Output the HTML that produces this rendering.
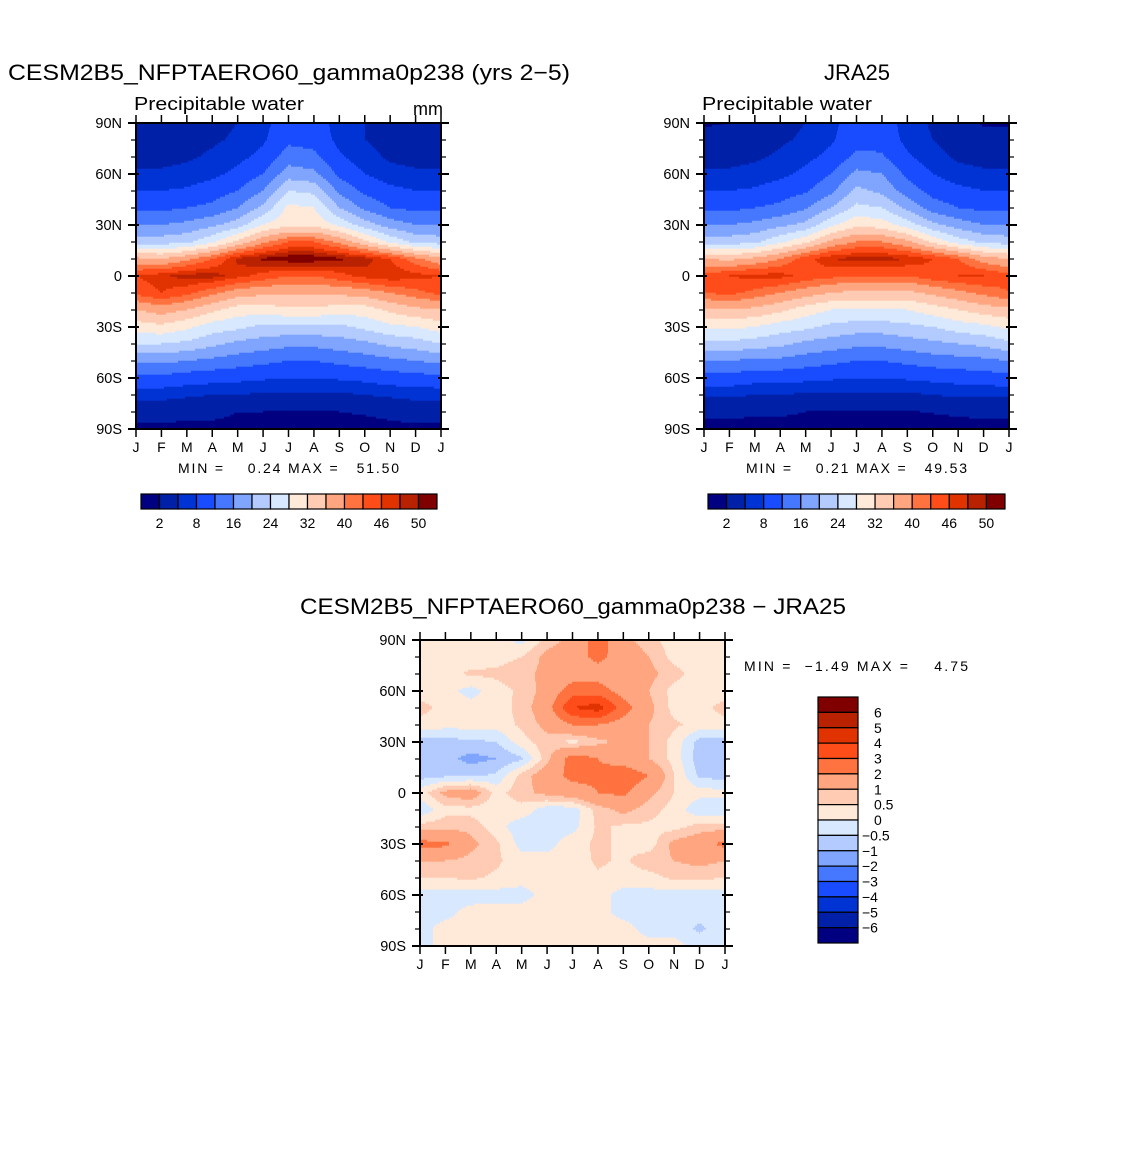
<!DOCTYPE html>
<html><head><meta charset="utf-8">
<style>
html,body{margin:0;padding:0;background:#fff;}
body{width:1146px;height:1146px;position:relative;overflow:hidden;font-family:"Liberation Sans","DejaVu Sans",sans-serif;}
svg text{font-family:"Liberation Sans","DejaVu Sans",sans-serif;fill:#000;}
</style></head>
<body>
<svg id="chart" width="1146" height="1146" viewBox="0 0 1146 1146" xmlns="http://www.w3.org/2000/svg">
<text x="8" y="80" font-size="22" textLength="562" lengthAdjust="spacingAndGlyphs">CESM2B5_NFPTAERO60_gamma0p238 (yrs 2−5)</text>
<text x="134" y="110" font-size="18" textLength="170" lengthAdjust="spacingAndGlyphs">Precipitable water</text>
<text x="443" y="115" font-size="18" text-anchor="end">mm</text>
<text x="857" y="80" font-size="22" text-anchor="middle">JRA25</text>
<text x="702" y="110" font-size="18" textLength="170" lengthAdjust="spacingAndGlyphs">Precipitable water</text>
<text x="178" y="473" font-size="14" textLength="221" lengthAdjust="spacing" xml:space="preserve">MIN =    0.24 MAX =   51.50</text>
<text x="746" y="473" font-size="14" textLength="221" lengthAdjust="spacing" xml:space="preserve">MIN =    0.21 MAX =   49.53</text>
<text x="300" y="614" font-size="22" textLength="546" lengthAdjust="spacingAndGlyphs">CESM2B5_NFPTAERO60_gamma0p238 − JRA25</text>
<text x="744" y="671" font-size="14" textLength="224" lengthAdjust="spacing" xml:space="preserve">MIN =  −1.49 MAX =    4.75</text>
<g id="layer"></g>
</svg>
<script>
// ---- data ----
const months = ["J","F","M","A","M","J","J","A","S","O","N","D","J"];
const lats = [90,80,70,60,50,40,30,20,10,0,-10,-20,-30,-40,-50,-60,-70,-80,-90];
const latTickLabels = ["90N","60N","30N","0","30S","60S","90S"];
const latTickValues = [90,60,30,0,-30,-60,-90];
const absLevels = [2,5,8,12,16,20,24,28,32,36,40,43,46,48,50];
const absLevelLabels = ["2","8","16","24","32","40","46","50"];
const diffLevels = [-6,-5,-4,-3,-2,-1,-0.5,0,0.5,1,2,3,4,5,6];
const diffLevelLabels = ["6","5","4","3","2","1","0.5","0","−0.5","−1","−2","−3","−4","−5","−6"];
const palette = ["#000080","#0020a8","#0033d4","#1a4cff","#4677ff","#7fa5ff","#b3cbff","#d8e9ff","#ffe9d8","#ffcbb3","#ffa680","#ff7340","#ff4d1a","#e03300","#b82200","#800000"];
const cesmJan=[3,3.5,4,5.5,8,11,16,22,37,46,44,36,30,24,17,11,6,3,1.5];
const cesmFeb=[3,3.5,4,5.5,8,11,16,22,36,47.5,46,38,31,24,17,11,6,3,1.5];
const cesmMar=[3.5,4,4.5,6,8.5,12,17,23,39,49,44,36,29,23,16,10,5.5,2.5,1.5];
const cesmApr=[4,4.5,5.5,7,10,13,19,27,43,49,41,33,26,21,15,9.5,5,2.5,1.5];
const cesmMay=[5,5.5,7,9,12,16,22,33,48.5,47,38,30,25,19,14,9,5,2,1.5];
const cesmJun=[7,7.5,9,12,16,21,28,39,50.5,45,37,30,23,18,13,8.5,4.5,2,1.2];
const cesmJul=[10,11,14,18,24,29,31,43,51.5,43,37,31,23,17,12,8,4.5,1.8,1];
const cesmAug=[10,10.5,13,17,23,28,31,43,51.5,43,37,31,23,17,12,8,4.5,1.8,1];
const cesmSep=[6.5,7,8.5,11,15,20,27,39,50.5,45,37,30,23,18,13,8.5,4.5,2,1.2];
const cesmOct=[5,5,6,8,11,15,22,33,49,47,38,30,25,19,14,9,5,2.2,1.3];
const cesmNov=[3.5,4,4.5,6,9,12,18,27,46,48,40,33,27,21,15,10,5.5,2.5,1.5];
const cesmDec=[3,3.5,4,5.5,8,11,16,23,41,47,42,35,28,22,16,10.5,6,3,1.5];
const jraJan=[1.8,2.5,4,5.5,8,11,16,22,36,44,43,35,29,23,16,10.5,5.5,2.5,1.3];
const jraFeb=[2,3,4,5.5,8,11,16,22,35,46,44,36,29,23,16,10.5,5.5,2.5,1.3];
const jraMar=[3,3.5,4.5,6,8.5,12,17,23,37,47,42,35,28,22,15,9.5,5,2.3,1.3];
const jraApr=[4,4.5,5.5,7,10,13,19,27,40,47,40,33,26,21,15,9.5,5,2.3,1.3];
const jraMay=[5,5.5,7,9,11.5,15.5,21,31,45,45,38,30,25,19,14,9,4.5,2,1.3];
const jraJun=[7,7.5,9,12,15,20,27,37,48,44,36,28,23,18,13,8.5,4.5,1.8,1.1];
const jraJul=[10,10.5,13,17,21,25,31,40,49,43,35,28,22,17,12,8,4.5,1.7,1];
const jraAug=[10,10.5,12.5,16,19,24,30,40,49,43,35,28,22,17,12,8,4.5,1.7,1];
const jraSep=[6.5,7,8.5,11,14,19,26,37,48,43,35,28,23,18,13,8.5,4.5,1.9,1.1];
const jraOct=[4.5,5,6,8,10.5,14,21,31,46,45,37,30,24,19,14,9,5,2.1,1.2];
const jraNov=[3,3.5,4.5,6,9,12,18,26,43,46,39,32,26,20,14.5,9.5,5.5,2.3,1.3];
const jraDec=[1.8,2.5,4,5.5,8,11,16,23,38,46,41,34,27,21,15,10,5.5,2.5,1.3];
const d90=[0.2,0.2,0.2,0.2,-0.2,0.7,1.2,2.5,1.2,0.7,0.2,0.2,0.2];
const d80=[0.2,0.2,0.2,0.3,0.5,1.2,1.5,2.3,1.5,1,0.3,0.2,0.2];
const d70=[0.2,0.3,0.6,0.6,0.8,1.2,1.5,1.5,1.3,1.2,0.7,0.2,0.2];
const d60=[0.2,0.2,-0.2,0.3,0.6,1.3,2.5,2.5,1.5,1,0.3,0.2,0.2];
const d50=[0.7,0.3,0.2,0.2,0.7,1.5,4,4.5,2.5,1.2,0.3,0.3,0.7];
const d40=[0.3,0.2,0.2,0.2,0.6,1.2,2,2,1.5,1,0.6,0.3,0.3];
const d30=[-0.7,-0.7,-0.6,-0.5,0.3,0.8,0.3,0.8,1.2,1,0.3,-0.7,-0.7];
const d20=[-1,-0.8,-1.2,-1,-0.6,0.8,2.5,2,1.5,1,0.3,-0.8,-1];
const d10=[-0.7,-0.6,-0.6,-0.4,0.7,1.5,2.3,2.2,2.7,2,0.5,-0.6,-0.7];
const d00=[0.2,1.2,1.5,0.3,0.8,1.2,1.5,2,2.2,1.2,0.5,0.2,0.2];
const dS10=[-0.4,0.3,0.3,0.2,0.3,-0.3,-0.3,0.7,1.2,0.7,0.3,-0.4,-0.4];
const dS20=[0.7,0.8,0.8,0.2,-0.3,-0.3,-0.2,0.6,0.4,0.4,0.3,0.7,0.7];
const dS30=[2.3,2.2,1.2,0.6,-0.2,-0.2,0.3,0.6,0.4,0.2,1.2,1.5,2.3];
const dS40=[1,1,0.8,0.6,0.2,0.2,0.2,0.6,0.4,0.8,1,1.2,1];
const dS50=[0.5,0.5,0.6,0.4,0.2,0.2,0.2,0.4,0.3,0.3,0.6,0.6,0.5];
const dS60=[-0.2,-0.2,-0.3,-0.2,-0.2,0.2,0.2,0.2,-0.2,-0.2,-0.2,-0.2,-0.2];
const dS70=[-0.2,-0.2,0.2,0.2,0.2,0.2,0.2,0.2,-0.2,-0.2,-0.3,-0.3,-0.2];
const dS80=[-0.2,0.2,0.2,0.2,0.2,0.2,0.2,0.2,0.2,-0.2,-0.2,-0.6,-0.2];
const dS90=[-0.2,0.2,0.2,0.2,0.2,0.2,0.2,0.2,0.2,0.2,0.2,-0.2,-0.2];

// ---- build ----
const NS="http://www.w3.org/2000/svg";
const layer=document.getElementById('layer');
function mk(tag,attrs,parent){const e=document.createElementNS(NS,tag);for(const k in attrs)e.setAttribute(k,attrs[k]);(parent||layer).appendChild(e);return e;}
function colsToGrid(cols){const g=[];for(let i=0;i<lats.length;i++){const r=[];for(let k=0;k<13;k++)r.push(cols[k%12][i]);g.push(r);}return g;}
const cesmGrid=colsToGrid([cesmJan,cesmFeb,cesmMar,cesmApr,cesmMay,cesmJun,cesmJul,cesmAug,cesmSep,cesmOct,cesmNov,cesmDec]);
const jraGrid=colsToGrid([jraJan,jraFeb,jraMar,jraApr,jraMay,jraJun,jraJul,jraAug,jraSep,jraOct,jraNov,jraDec]);
const diffGrid=[d90,d80,d70,d60,d50,d40,d30,d20,d10,d00,dS10,dS20,dS30,dS40,dS50,dS60,dS70,dS80,dS90];

function levelIndex(v,levels){let i=0;while(i<levels.length&&v>=levels[i])i++;return i;}
function sample(grid,m,lat){
  const fr=(90-lat)/10, r0=Math.min(Math.floor(fr),lats.length-2), tr=fr-r0;
  const c0=Math.min(Math.floor(m),11), tc=m-c0;
  const a=grid[r0][c0],b=grid[r0][c0+1],c=grid[r0+1][c0],d=grid[r0+1][c0+1];
  return (a*(1-tc)+b*tc)*(1-tr)+(c*(1-tc)+d*tc)*tr;
}
function drawPanel(name,x0,y0,w,h,grid,levels){
  const g=mk('g',{});
  
  
  const xS=m=>x0+m/12*w, yS=lat=>y0+(90-lat)/180*h;
  const step=2;
  for(let py=0;py<h;py+=step){
    const lat=90-(py+step/2)/h*180;
    let runStart=0,runLev=-1;
    for(let px=0;px<=w;px++){
      let lev=-2;
      if(px<w){const m=(px+0.5)/w*12;lev=levelIndex(sample(grid,m,lat),levels);}
      if(lev!==runLev){
        if(runLev>=0){
          const r=mk('rect',{x:x0+runStart,y:yS(lat)-step/2-0.3,width:px-runStart+0.4,height:step+0.6,fill:palette[runLev]},g);
          
          
        }
        runStart=px;runLev=lev;
      }
    }
  }
  const fr=mk('rect',{x:x0,y:y0,width:w,height:h,fill:'none',stroke:'#000','stroke-width':2});
  
  
  for(let lat=-90;lat<=90;lat+=10){
    const major=lat%30===0, y=yS(lat);
    const L=major?8:5;
    mk('line',{x1:x0-L,y1:y,x2:x0+(major?3:0),y2:y,stroke:'#000','stroke-width':major?2:1.2});
    mk('line',{x1:x0+w+L,y1:y,x2:x0+w-(major?3:0),y2:y,stroke:'#000','stroke-width':major?2:1.2});
  }
  latTickValues.forEach((lv,i)=>{
    const t=mk('text',{x:x0-14,y:yS(lv)+5,'font-size':14.5,'text-anchor':'end'});
    
    
    t.textContent=latTickLabels[i];
  });
  months.forEach((mn,k)=>{
    const x=xS(k);
    mk('line',{x1:x,y1:y0+h,x2:x,y2:y0+h+8,stroke:'#000','stroke-width':1.5});
    mk('line',{x1:x,y1:y0,x2:x,y2:y0-8,stroke:'#000','stroke-width':1.5});
    const t=mk('text',{x:x,y:y0+h+23,'font-size':14,'text-anchor':'middle'});
    
    
    t.textContent=mn;
  });
}
function hColorbar(name,x0,y0,w,h,labels){
  const bw=w/16;
  for(let i=0;i<16;i++){
    const r=mk('rect',{x:x0+i*bw,y:y0,width:bw,height:h,fill:palette[i],stroke:'#000','stroke-width':1.2});
    
    
  }
  labels.forEach((lb,j)=>{
    const t=mk('text',{x:x0+(2*j+1)*bw,y:y0+h+19,'font-size':14,'text-anchor':'middle'});
    
    
    t.textContent=lb;
  });
}
function vColorbar(name,x0,y0,w,h,labels){
  const bh=h/16;
  for(let i=0;i<16;i++){
    const r=mk('rect',{x:x0,y:y0+i*bh,width:w,height:bh,fill:palette[15-i],stroke:'#000','stroke-width':1.2});
    
    
  }
  labels.forEach((lb,j)=>{
    const t=mk('text',{x:x0+w+4+(lb.startsWith('−')?0:12),y:y0+(j+1)*bh+5,'font-size':14});
    
    
    t.textContent=lb;
  });
}
drawPanel('cesm',136,123,305,306,cesmGrid,absLevels);
drawPanel('jra',704,123,305,306,jraGrid,absLevels);
drawPanel('diff',420,640,305,306,diffGrid,diffLevels);
hColorbar('cesm-colorbar',141,494,296,15,absLevelLabels);
hColorbar('jra-colorbar',708,494,297,15,absLevelLabels);
vColorbar('diff-colorbar',818,697,40,246,diffLevelLabels);
</script>
</body></html>
